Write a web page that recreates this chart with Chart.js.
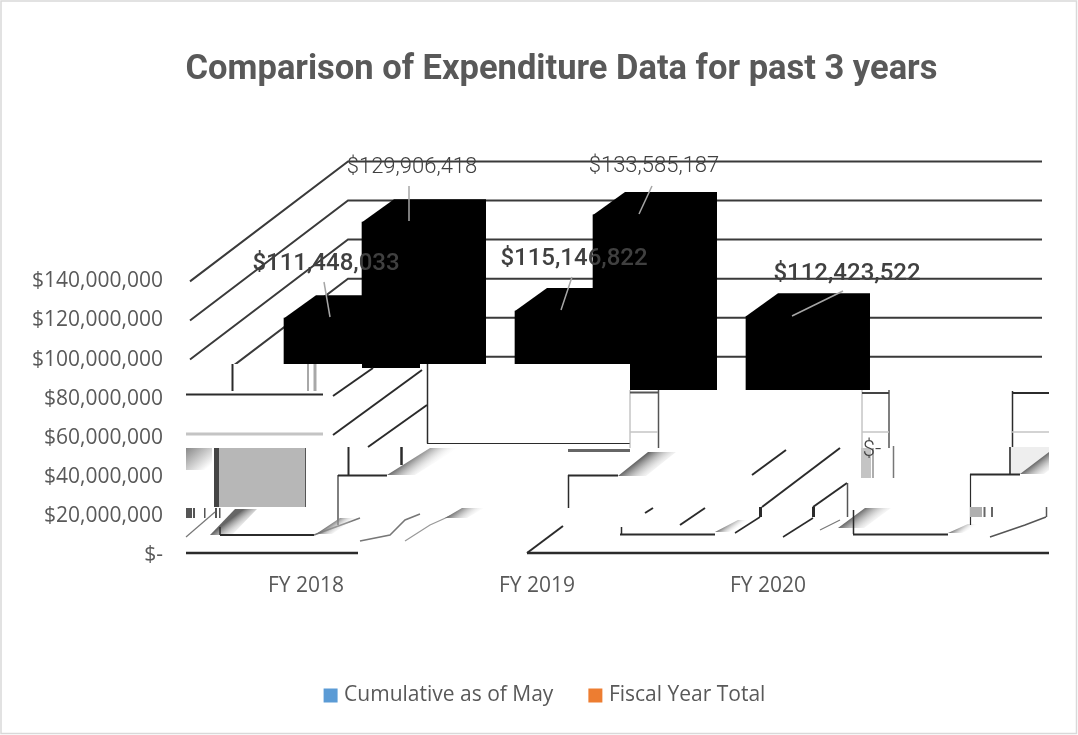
<!DOCTYPE html>
<html>
<head>
<meta charset="utf-8">
<style>html,body{margin:0;padding:0;background:#fff}canvas{display:block}</style>
<script src="https://cdn.jsdelivr.net/npm/chart.js@4/dist/chart.umd.min.js"></script>
</head>
<body>
<canvas id="c" width="1078" height="735"></canvas>
<script>
const categories = ["FY 2018", "FY 2019", "FY 2020"];
const cumulativeAsOfMay = [111448033, 115146822, 112423522];
const fiscalYearTotal = [129906418, 133585187, 0];
const seriesNames = ["Cumulative as of May", "Fiscal Year Total"];
const legendColors = ["#5B9BD5", "#ED7D31"];
const TEXT = "#595959", FONT = "'Open Sans', sans-serif";

const depth = [{dx:24,dy:-19},{dx:102,dy:-79}];
const EX = 32, EY = -23, BACKX = 158, BACKY = -120;

function money(v){ return v === 0 ? "$-" : "$" + v.toLocaleString("en-US"); }
function line(c, pts, w, col){
  c.beginPath(); c.lineWidth = w; c.strokeStyle = col;
  pts.forEach((p,i)=> i ? c.lineTo(p[0],p[1]) : c.moveTo(p[0],p[1]));
  c.stroke();
}
function shade(c,x1,y1,x2,y2,w){
  const g = c.createLinearGradient(x1,y1,x1+w*0.5,y1+w*0.65);
  g.addColorStop(0,"#666"); g.addColorStop(1,"rgba(255,255,255,0)");
  c.fillStyle = g; c.beginPath();
  c.moveTo(x1,y1); c.lineTo(x2,y2); c.lineTo(x2+w,y2); c.lineTo(x1+w,y1); c.closePath(); c.fill();
}

const scene = {
  id:"scene",
  afterLayout(chart){
    const t = chart.titleBlock, l = chart.legend;
    t.left += 37; t.right += 37;
    l.left += 22; l.right += 22; l.top -= 19; l.bottom -= 19;
  },
  beforeDatasetsDraw(chart){
    const c = chart.ctx, y = chart.scales.y, a = chart.chartArea;
    c.save();
    y.ticks.forEach(t=>{
      const py = y.getPixelForValue(t.value);
      line(c,[[a.left+4,py],[a.left+4+BACKX,py+BACKY],[a.right-7,py+BACKY]],2,"#3a3a3a");
    });
    c.restore();
  },
  beforeDatasetDraw(chart,args){
    chart.ctx.save();
    chart.ctx.translate(depth[args.index].dx,depth[args.index].dy);
  },
  afterDatasetDraw(chart,args){
    const c = chart.ctx;
    args.meta.data.forEach(b=>{
      const L = b.x-b.width/2, R = b.x+b.width/2;
      c.fillStyle = "#000"; c.beginPath();
      c.moveTo(L,b.y); c.lineTo(L+EX,b.y+EY); c.lineTo(R+EX,b.y+EY);
      c.lineTo(R+EX,b.base+EY); c.lineTo(R,b.base); c.lineTo(L,b.base); c.closePath(); c.fill();
    });
    c.restore();
  },
  afterDatasetsDraw(chart){
    const c = chart.ctx;
    c.save();
    // the reference's lower area is blanked and broken up
    c.fillStyle = "#fff";
    c.fillRect(170,364,192,200); c.fillRect(362,368,58,200); c.fillRect(420,364,210,200); c.fillRect(630,390,430,180);
    const D="#2b2b2b", G="#a8a8a8";
    // left block
    line(c,[[232.5,364],[232.5,391]],2,D);
    line(c,[[308,364],[308,391]],2,G); line(c,[[315,364],[315,391]],3,G);
    line(c,[[186,394.5],[323,394.5]],2,D);
    line(c,[[186,434],[323,434]],3,"#c4c4c4");
    line(c,[[333,396],[373,368]],2,D); line(c,[[333,435],[422,370]],2,D); line(c,[[368,447],[427,405]],2,D);
    line(c,[[427.5,364],[427.5,443.5]],1.5,D); line(c,[[427,443.5],[630,443.5]],1.2,D);
    line(c,[[348.5,447],[348.5,475]],2,D); line(c,[[401.5,447],[401.5,465]],2.5,D);
    shade(c,387,475,430,448,28);
    line(c,[[338,475.5],[387,475.5]],2,D); line(c,[[338,475],[338,525]],1.2,D);
    c.fillStyle="#b7b7b7"; c.fillRect(219,448,86,59);
    c.fillStyle="#444"; c.fillRect(214,448,5,59);
    c.fillStyle="#555"; c.fillRect(305,448,1,59);
    const lg=c.createLinearGradient(186,448,205,470); lg.addColorStop(0,"#888"); lg.addColorStop(1,"#fff");
    c.fillStyle=lg; c.fillRect(186,448,26,22);
    [[186,4],[190,2],[193,2],[204,1.5],[215,2],[219,1.5]].forEach(r=>{c.fillStyle="#555";c.fillRect(r[0],508,r[1],10);});
    shade(c,210,535,235,509,22);
    line(c,[[186,537],[215,512]],1.2,"#777");
    line(c,[[220,535],[314,535]],2,D); line(c,[[220,527],[220,535]],1.5,D);
    line(c,[[314,535],[360,518]],1.5,"#777");
    shade(c,316,534,340,518,16);
    line(c,[[360,541],[390,535],[405,520],[420,514]],1.5,"#777");
    line(c,[[405,541],[430,525],[450,516]],1.2,"#999");
    shade(c,445,518,462,508,22);
    line(c,[[186,553],[358,553]],2.5,D);
    // middle block
    line(c,[[527,553],[563,526]],2,D); line(c,[[527,553],[1049,553]],2.5,D);
    line(c,[[568,450.5],[630,450.5]],3,"#666");
    shade(c,618,476,648,452,28);
    line(c,[[568,475.5],[618,475.5]],2,D); line(c,[[568.5,475],[568.5,508]],1.5,D);
    line(c,[[630,390],[630,448]],1,G); line(c,[[658.5,390],[658.5,448]],1.5,"#555");
    line(c,[[630,392.5],[658,392.5]],2,"#555"); line(c,[[630,432],[658,432]],1.5,"#c4c4c4");
    line(c,[[752,475],[786,450]],2,D); line(c,[[762,507],[840,448]],2,D); line(c,[[813,507],[847,483]],2,D);
    line(c,[[847.5,483],[847.5,517]],1.5,"#555");
    line(c,[[760.5,507],[760.5,517]],3,D); line(c,[[813.5,507],[813.5,517]],3,D);
    line(c,[[735,533],[760,517]],1.5,D); line(c,[[783,537],[813,518]],1.5,D);
    line(c,[[645,513],[653,508]],2,D); line(c,[[680,525],[705,508]],2,D);
    shade(c,715,532,738,520,14);
    line(c,[[620,534.5],[715,534.5]],2,D); line(c,[[621.5,527],[621.5,534]],1.5,D);
    line(c,[[820,530],[840,520]],1.2,"#777");
    shade(c,838,528,865,508,26);
    // right block
    line(c,[[853.5,510],[853.5,534]],1.5,D); line(c,[[853,534.5],[948,534.5]],2,D);
    shade(c,948,533,968,524,14);
    line(c,[[862,390],[862,448]],1,G); line(c,[[889,390],[889,448]],1.5,"#555");
    line(c,[[862,393],[889,393]],2,"#444"); line(c,[[862,432],[889,432]],1.5,"#c4c4c4");
    c.fillStyle="#c4c4c4"; c.fillRect(861,448,10,30);
    line(c,[[873,448],[873,478]],1.2,"#777"); line(c,[[893.5,446],[893.5,478]],1.5,"#777");
    line(c,[[1012.5,391],[1012.5,448]],1.5,D); line(c,[[1012,393],[1049,393]],2,D);
    line(c,[[1012,432],[1049,432]],1.5,"#c4c4c4");
    c.fillStyle="#eeeeee"; c.beginPath(); c.moveTo(1010,447); c.lineTo(1049,447); c.lineTo(1049,452); c.lineTo(1020,474); c.lineTo(1010,474); c.closePath(); c.fill();
    shade(c,1020,474,1049,452,24);
    c.fillStyle="#fff"; c.fillRect(1049,440,29,60);
    line(c,[[1010,447],[1010,474]],2,"#555"); line(c,[[970,474.5],[1020,474.5]],2,D); line(c,[[970.5,474],[970.5,525]],1.2,D);
    c.fillStyle="#b0b0b0"; c.fillRect(970,507,12,10);
    line(c,[[984.5,507],[984.5,517]],2,"#666"); line(c,[[992,507],[992,517]],2,"#666");
    line(c,[[990,537],[1025,525],[1046,517]],1.5,"#555"); line(c,[[1046.5,507],[1046.5,517]],1.5,"#555");
    // leader lines
    [[[324,282],[330,317]],[[409,186],[409,221]],[[572,277],[561,310]],[[652,186],[639,214]],[[843,291],[792,316]]]
      .forEach(p=>line(c,p,1.5,"#a6a6a6"));
    // value labels
    c.textAlign="center"; c.textBaseline="middle";
    const lab=(v,x,y,f,col)=>{c.font=f;c.fillStyle=col;c.fillText(money(v),x,y);};
    const big="500 24px Roboto", small="300 22px Roboto";
    lab(cumulativeAsOfMay[0],326,264,big,"#404040");
    lab(cumulativeAsOfMay[1],574,259,big,"#404040");
    lab(cumulativeAsOfMay[2],847,274,big,"#404040");
    lab(fiscalYearTotal[0],412,167,small,"#404040");
    lab(fiscalYearTotal[1],654,166,small,"#404040");
    lab(fiscalYearTotal[2],872,450,small,"#404040");
    c.strokeStyle="#d9d9d9"; c.lineWidth=1.5; c.strokeRect(1,1,1075.5,732.5);
    c.restore();
  }
};

const toPoints = vals => vals.map((v,i)=>({x:i,y:v}));
new Chart(document.getElementById("c"),{
  type:"bar",
  data:{datasets:[
    {label:seriesNames[0],data:toPoints(cumulativeAsOfMay),backgroundColor:"#000",barThickness:92,grouped:false,clip:false},
    {label:seriesNames[1],data:toPoints(fiscalYearTotal),backgroundColor:"#000",barThickness:92,grouped:false,clip:false}
  ]},
  options:{
    responsive:false,animation:false,
    layout:{padding:{left:0,right:29,top:0,bottom:0}},
    plugins:{
      tooltip:{enabled:false},
      title:{display:true,text:"Comparison of Expenditure Data for past 3 years",color:TEXT,
        font:{family:"Roboto, sans-serif",size:34.5,weight:"bold"},padding:{top:50,bottom:190}},
      legend:{position:"bottom",labels:{boxWidth:6,boxHeight:6,padding:39,color:TEXT,font:{family:FONT,size:21},
        generateLabels:()=>seriesNames.map((n,i)=>({text:n,fillStyle:legendColors[i],strokeStyle:legendColors[i],lineWidth:8,datasetIndex:i,fontColor:TEXT}))}}
    },
    scales:{
      x:{type:"linear",offset:false,min:-0.5195,max:3.2165,grid:{display:false},border:{display:false},
        afterBuildTicks(s){s.ticks=categories.map((_,i)=>({value:i}));},
        ticks:{color:TEXT,font:{family:FONT,size:21},padding:10,maxRotation:0,autoSkip:false,
          callback:v=>categories[v]},
        afterFit(s){s.height=110;}},
      y:{min:0,max:140000000,grid:{display:false},border:{display:false},
        ticks:{stepSize:20000000,color:TEXT,font:{family:FONT,size:21},padding:15,callback:money},
        afterFit(s){s.width=186;}}
    }
  },
  plugins:[scene]
});
</script>
</body>
</html>
